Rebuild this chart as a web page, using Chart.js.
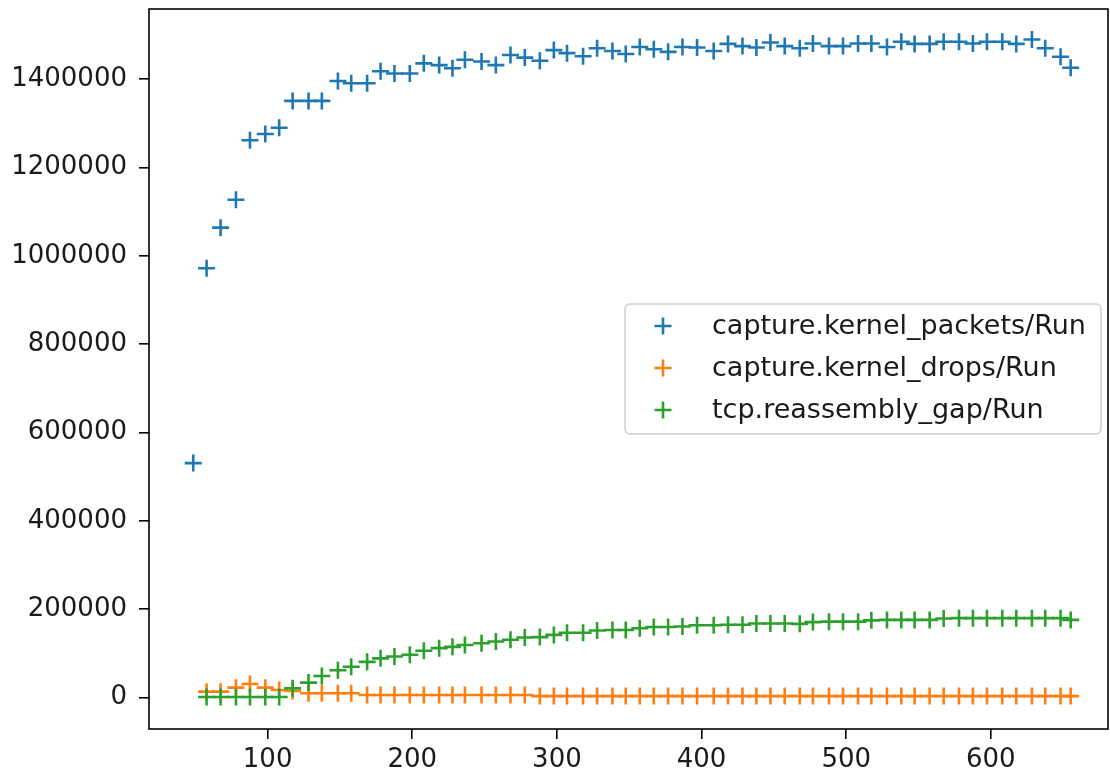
<!DOCTYPE html>
<html><head><meta charset="utf-8">
<script src="https://cdn.jsdelivr.net/npm/chart.js@4.4.1/dist/chart.umd.min.js"></script>
<style>html,body{margin:0;padding:0;background:#fff;overflow:hidden}canvas{display:block}</style>
</head><body>
<canvas id="c" width="1110" height="775"></canvas>
<script>
// Run time (x) for every sample
const runTimes = [48.6, 57.8, 67.5, 78.1, 87.8, 98.4, 108, 117.3, 128.3, 137.5, 148.6, 157.8, 168.8, 178.1, 187.7, 198.3, 208, 218.6, 227.8, 236.4,
  247.9, 257.8, 267.9, 277.8, 288.2, 297.9, 307, 318.1, 327.8, 338.4, 347.6, 357.3, 367, 376.9, 386.8, 396.9, 408.4, 418.3, 428.3, 437.9, 447.6, 457.5,
  467.9, 477, 488.1, 497.8, 508.2, 517.4, 528.2, 538.1, 547.3, 557.7, 567.4, 578, 587.6, 597.3, 607.9, 617.6, 628.4, 637.6, 648.2, 655.2];

// capture.kernel_packets/Run (all run times)
const kernelPackets = [531000, 972000, 1064000, 1127000, 1262000, 1276000, 1290000, 1351000, 1351000, 1351000, 1396000, 1391000, 1391000, 1418000, 1413000, 1413000, 1436000, 1432000, 1425000, 1444000,
  1440000, 1432000, 1455000, 1449000, 1442000, 1466000, 1459000, 1452000, 1470000, 1464000, 1457000, 1473000, 1468000, 1462000, 1473000, 1472000, 1464000, 1480000, 1475000, 1472000, 1483000, 1475000,
  1470000, 1481000, 1475000, 1475000, 1481000, 1481000, 1473000, 1485000, 1480000, 1480000, 1485000, 1485000, 1481000, 1485000, 1485000, 1480000, 1490000, 1470000, 1451000, 1426000];

// capture.kernel_drops/Run (from second run time on)
const kernelDrops = [13600, 13600, 22600, 31000, 22600, 17400, 15000, 10000, 10000, 10000, 10000,
  6000, 6000, 6000, 6000, 6000, 6000, 6000, 6000, 6000, 6000, 6000, 6000,
  3500, 3500, 3500, 3500, 3500, 3500, 3500, 3500, 3500, 3500, 3500, 3500, 3500, 3500, 3500, 3500, 3500, 3500, 3500,
  3500, 3500, 3500, 3500, 3500, 3500, 3500, 3500, 3500, 3500, 3500, 3500, 3500, 3500, 3500, 3500, 3500, 3500, 3500, 3500];

// tcp.reassembly_gap/Run (from second run time on)
const reassemblyGap = [1500, 1500, 1500, 1500, 1500, 1500,
  21000, 34000, 49000, 62000, 70000, 81000, 89000, 93000, 97000, 106000,
  112000, 115000, 119000, 123000, 127000, 131000, 136000, 137000, 142000, 147000,
  147000, 152000, 153000, 153000, 157000, 160000, 160000, 161000, 164000, 164000,
  165000, 165000, 168000, 168000, 168000, 167000, 171000, 172000, 172000, 172000,
  175000, 176000, 176000, 176000, 176000, 179000, 180000, 180000, 180000, 180000,
  180000, 180000, 180000, 180000, 176000];

const seriesLabels = ['capture.kernel_packets/Run', 'capture.kernel_drops/Run', 'tcp.reassembly_gap/Run'];
const seriesColors = ['#1f77b4', '#ff7f0e', '#2ca02c'];
const xTickValues = [100, 200, 300, 400, 500, 600];
const yTickValues = [0, 200000, 400000, 600000, 800000, 1000000, 1200000, 1400000];

const toPoints = (xs, ys) => ys.map((y, i) => ({ x: xs[i], y }));
const seriesData = [
  toPoints(runTimes, kernelPackets),
  toPoints(runTimes.slice(1), kernelDrops),
  toPoints(runTimes.slice(1), reassemblyGap)
];

Chart.defaults.font.family = "'DejaVu Sans', sans-serif";
Chart.defaults.color = '#1a1a1a';

const TEXT_COLOR = '#1a1a1a';

const framePlugin = {
  id: 'frame',
  afterDatasetsDraw(chart) {
    const { ctx, chartArea: a } = chart;
    ctx.save();
    ctx.strokeStyle = '#000';
    ctx.lineWidth = 1.6;
    ctx.strokeRect(a.left, a.top, a.right - a.left, a.bottom - a.top);
    ctx.restore();
  }
};

const legendPlugin = {
  id: 'mplLegend',
  afterDraw(chart) {
    const { ctx } = chart;
    const boxL = 625, boxT = 304, boxR = 1101, boxB = 434;
    ctx.save();
    ctx.beginPath();
    if (ctx.roundRect) ctx.roundRect(boxL, boxT, boxR - boxL, boxB - boxT, 5);
    else ctx.rect(boxL, boxT, boxR - boxL, boxB - boxT);
    ctx.fillStyle = 'rgba(255,255,255,0.8)';
    ctx.fill();
    ctx.strokeStyle = '#d0d0d0';
    ctx.lineWidth = 1.5;
    ctx.stroke();
    ctx.font = "27px 'DejaVu Sans'";
    ctx.textBaseline = 'middle';
    chart.data.datasets.forEach((ds, i) => {
      const y = 326 + i * 42;
      ctx.strokeStyle = ds.borderColor;
      ctx.lineWidth = 2.6;
      Chart.helpers.drawPoint(ctx, { pointStyle: 'cross', radius: 8.5, rotation: 0, borderWidth: 2.6 }, 663, y);
      ctx.fillStyle = TEXT_COLOR;
      ctx.fillText(ds.label, 712, y + 1);
    });
    ctx.restore();
  }
};

new Chart(document.getElementById('c'), {
  type: 'scatter',
  data: {
    datasets: seriesData.map((d, i) => ({
      label: seriesLabels[i],
      data: d,
      showLine: false,
      pointStyle: 'cross',
      pointRadius: 8.5,
      pointHoverRadius: 8.5,
      pointBorderWidth: 2.6,
      borderColor: seriesColors[i],
      backgroundColor: seriesColors[i],
      order: 3 - i
    }))
  },
  options: {
    responsive: false,
    devicePixelRatio: 1,
    animation: false,
    layout: { autoPadding: false, padding: { top: 9, right: 2, left: 0, bottom: 0 } },
    plugins: { legend: { display: false }, tooltip: { enabled: false } },
    scales: {
      x: {
        type: 'linear',
        min: 18, max: 681,
        border: { display: false },
        grid: { drawOnChartArea: false, drawTicks: true, tickLength: 10, color: '#000', lineWidth: 1.6 },
        ticks: {
          includeBounds: false, stepSize: 100, autoSkip: false, maxRotation: 0,
          padding: 6, color: TEXT_COLOR, font: { size: 26 },
          callback: v => String(v)
        },
        afterBuildTicks: s => { s.ticks = xTickValues.map(v => ({ value: v })); },
        afterFit: s => { s.height = 46; s.paddingLeft = 0; s.paddingRight = 0; }
      },
      y: {
        type: 'linear',
        min: -71000, max: 1559000,
        border: { display: false },
        grid: { drawOnChartArea: false, drawTicks: true, tickLength: 10, color: '#000', lineWidth: 1.6 },
        ticks: {
          includeBounds: false, stepSize: 200000, autoSkip: false,
          padding: 12, color: TEXT_COLOR, font: { size: 26 },
          callback: v => String(v)
        },
        afterBuildTicks: s => { s.ticks = yTickValues.map(v => ({ value: v })); },
        afterFit: s => { s.width = 149; s.paddingTop = 0; s.paddingBottom = 0; }
      }
    }
  },
  plugins: [framePlugin, legendPlugin]
});
</script>
</body></html>
